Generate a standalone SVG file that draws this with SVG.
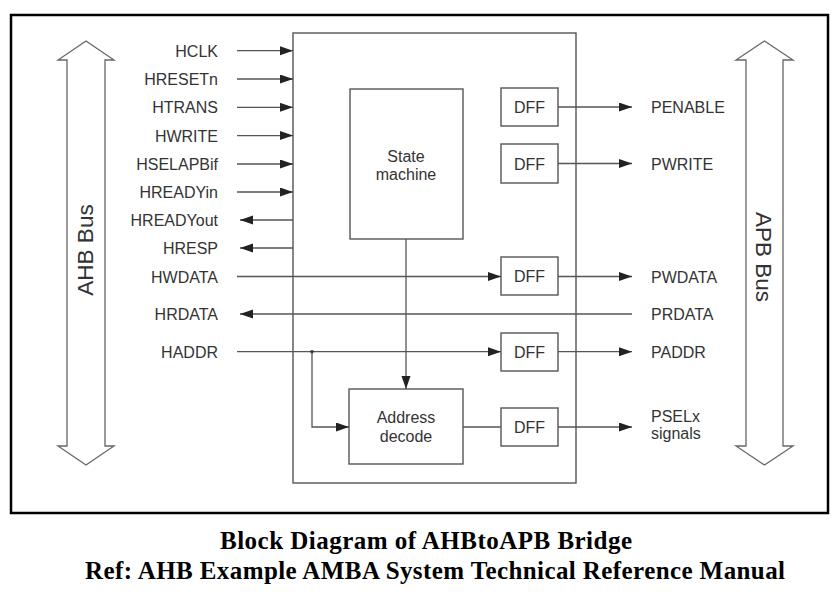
<svg xmlns="http://www.w3.org/2000/svg" width="840" height="597" viewBox="0 0 840 597">
<style>
.box{fill:#fff;stroke:#555;stroke-width:1.4}
.ln{fill:none;stroke:#555;stroke-width:1.3}
.bus{fill:#fff;stroke:#666;stroke-width:1.3}
.lbl{font-family:"Liberation Sans",Arial,sans-serif;font-size:16px;fill:#333}
.busl{font-family:"Liberation Sans",Arial,sans-serif;font-size:22.5px;fill:#333}
.cap{font-family:"Liberation Serif","Times New Roman",serif;font-size:25px;font-weight:bold;fill:#000}
</style>
<defs>
<marker id="ah" markerUnits="userSpaceOnUse" markerWidth="14" markerHeight="10" refX="13" refY="4.5" orient="auto">
<path d="M0,0 L13,4.5 L0,9 Z" fill="#222"/>
</marker>
</defs>
<rect width="840" height="597" fill="#fff"/>
<rect x="11" y="15" width="817" height="498" fill="none" stroke="#000" stroke-width="2.5"/>

<g id="ahb-bus">
<polygon class="bus" points="86,41 114,60 105,60 105,446 114,446 86,465 58,446 67,446 67,60 58,60"/>
<text class="busl" transform="translate(93,250) rotate(-90)" text-anchor="middle">AHB Bus</text>
</g>
<g id="apb-bus">
<polygon class="bus" points="764.5,41 793,60 783,60 783,446 793,446 764.5,465 736,446 746,446 746,60 736,60"/>
<text class="busl" transform="translate(756,257) rotate(90)" text-anchor="middle">APB Bus</text>
</g>

<g id="bridge"><rect class="box" x="293" y="33" width="283" height="450"/></g>
<g id="state-machine">
<rect class="box" x="350" y="89" width="113" height="150"/>
<text class="lbl" x="406" y="162" text-anchor="middle">State</text>
<text class="lbl" x="406" y="180" text-anchor="middle">machine</text>
</g>
<g id="address-decode">
<rect class="box" x="349" y="389" width="114" height="75"/>
<text class="lbl" x="406" y="423" text-anchor="middle">Address</text>
<text class="lbl" x="406" y="442" text-anchor="middle">decode</text>
</g>
<g id="dff-penable"><rect class="box" x="501" y="88" width="57" height="38"/><text class="lbl" x="529.5" y="113" text-anchor="middle">DFF</text></g>
<g id="dff-pwrite"><rect class="box" x="501" y="144" width="57" height="39"/><text class="lbl" x="529.5" y="169.5" text-anchor="middle">DFF</text></g>
<g id="dff-pwdata"><rect class="box" x="501" y="257" width="57" height="38"/><text class="lbl" x="529.5" y="282" text-anchor="middle">DFF</text></g>
<g id="dff-paddr"><rect class="box" x="501" y="333" width="57" height="38"/><text class="lbl" x="529.5" y="358" text-anchor="middle">DFF</text></g>
<g id="dff-psel"><rect class="box" x="501" y="408" width="57" height="38"/><text class="lbl" x="529.5" y="433" text-anchor="middle">DFF</text></g>

<g id="left-labels" class="lbl" text-anchor="end">
<text x="218" y="56.5">HCLK</text>
<text x="218" y="85">HRESETn</text>
<text x="218" y="113.3">HTRANS</text>
<text x="218" y="141.5">HWRITE</text>
<text x="218" y="170">HSELAPBif</text>
<text x="218" y="198">HREADYin</text>
<text x="218" y="226">HREADYout</text>
<text x="218" y="254">HRESP</text>
<text x="218" y="282.5">HWDATA</text>
<text x="218" y="320">HRDATA</text>
<text x="218" y="357.5">HADDR</text>
</g>
<g id="right-labels" class="lbl">
<text x="651" y="113">PENABLE</text>
<text x="651" y="169.5">PWRITE</text>
<text x="651" y="282.5">PWDATA</text>
<text x="651" y="320">PRDATA</text>
<text x="651" y="357.5">PADDR</text>
<text x="651" y="422">PSELx</text>
<text x="651" y="439">signals</text>
</g>

<g id="connectors">
<line class="ln" x1="237" y1="50.7" x2="293" y2="50.7" marker-end="url(#ah)"/>
<line class="ln" x1="237" y1="79" x2="293" y2="79" marker-end="url(#ah)"/>
<line class="ln" x1="237" y1="107.3" x2="293" y2="107.3" marker-end="url(#ah)"/>
<line class="ln" x1="237" y1="135.6" x2="293" y2="135.6" marker-end="url(#ah)"/>
<line class="ln" x1="237" y1="164" x2="293" y2="164" marker-end="url(#ah)"/>
<line class="ln" x1="237" y1="192" x2="293" y2="192" marker-end="url(#ah)"/>
<line class="ln" x1="293" y1="220" x2="240" y2="220" marker-end="url(#ah)"/>
<line class="ln" x1="293" y1="248" x2="240" y2="248" marker-end="url(#ah)"/>
<line class="ln" x1="237" y1="276.5" x2="501" y2="276.5" marker-end="url(#ah)"/>
<line class="ln" x1="632" y1="314" x2="240" y2="314" marker-end="url(#ah)"/>
<line class="ln" x1="237" y1="351.7" x2="501" y2="351.7" marker-end="url(#ah)"/>
<circle cx="312" cy="351.7" r="1.8" fill="#333"/>
<polyline class="ln" points="312,351.7 312,427 349,427" marker-end="url(#ah)"/>
<line class="ln" x1="406" y1="239" x2="406" y2="389" marker-end="url(#ah)"/>
<line class="ln" x1="463" y1="427" x2="501" y2="427"/>
<line class="ln" x1="558" y1="107" x2="632" y2="107" marker-end="url(#ah)"/>
<line class="ln" x1="558" y1="163.5" x2="632" y2="163.5" marker-end="url(#ah)"/>
<line class="ln" x1="558" y1="276.5" x2="632" y2="276.5" marker-end="url(#ah)"/>
<line class="ln" x1="558" y1="351.7" x2="632" y2="351.7" marker-end="url(#ah)"/>
<line class="ln" x1="558" y1="427" x2="632" y2="427" marker-end="url(#ah)"/>
</g>

<g id="caption">
<text class="cap" x="426" y="548.5" text-anchor="middle" textLength="412">Block Diagram of AHBtoAPB Bridge</text>
<text class="cap" x="435" y="578.5" text-anchor="middle" textLength="700">Ref: AHB Example AMBA System Technical Reference Manual</text>
</g>
</svg>
